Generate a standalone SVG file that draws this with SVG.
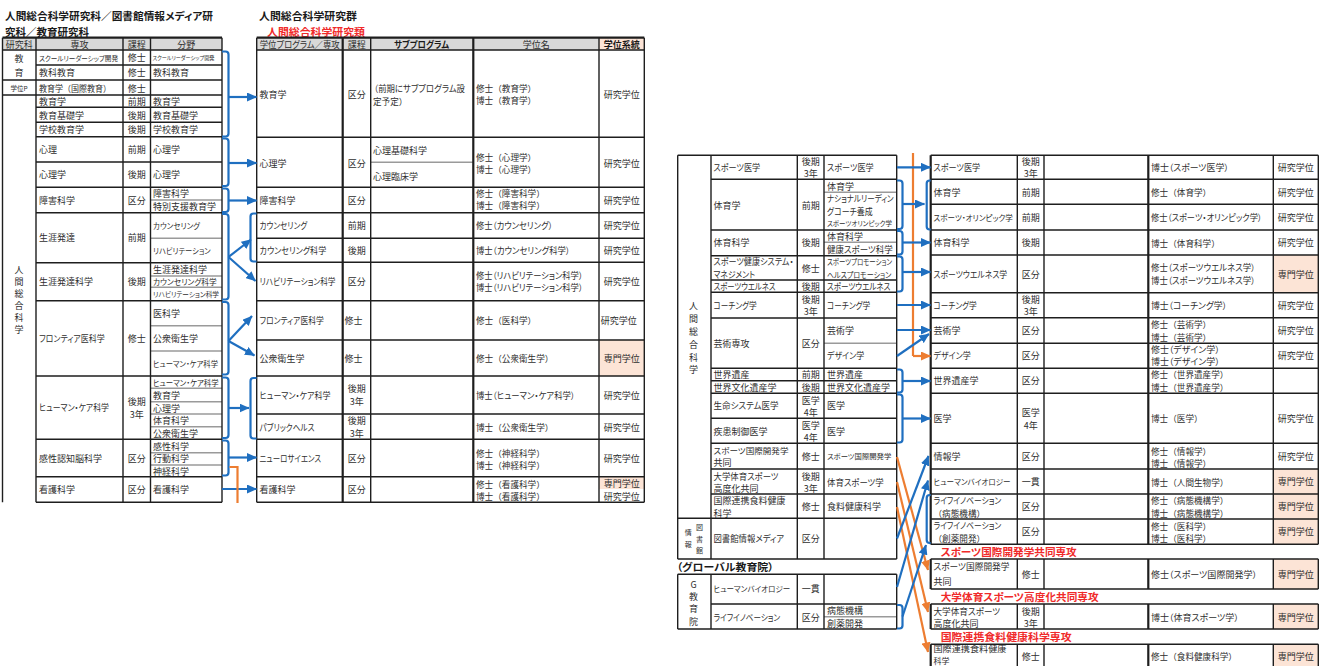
<svg xmlns="http://www.w3.org/2000/svg" width="1324" height="666" viewBox="0 0 1324 666">
<defs>
<style>
.t{font-family:"Noto Sans CJK JP","Noto Sans CJK SC",sans-serif;font-size:9px;fill:#2e2e2e;dominant-baseline:central;font-feature-settings:"palt"}
.m{text-anchor:middle}
.s8{font-size:8px}.s7{font-size:7px}.s6{font-size:5.5px}
.np{font-size:8.6px;font-feature-settings:normal}
.b{font-weight:bold;fill:#1a1a1a}
.ti{font-size:10.5px;font-weight:bold;fill:#1a1a1a}
.rd{font-size:10.5px;font-weight:bold;fill:#f02a2a}
.ln{stroke:#1e1e1e;stroke-width:1.4;fill:none}
.lt{stroke:#1e1e1e;stroke-width:2.2;fill:none}
.gl{stroke:#9a9a9a;stroke-width:1.4;fill:none}
.hd{fill:#d9d9d9}.pc{fill:#fce4d6}
.cb{stroke:#1f6fc0;stroke-width:2.2;fill:none}
.ca{stroke:#1f6fc0;stroke-width:2.2;fill:none;marker-end:url(#ab)}
.co{stroke:#ed7d31;stroke-width:2.2;fill:none}
.oa{stroke:#ed7d31;stroke-width:2.2;fill:none;marker-end:url(#ao)}
</style>
<marker id="ab" markerUnits="userSpaceOnUse" markerWidth="10" markerHeight="9" refX="9.5" refY="4.5" orient="auto"><path d="M0,0L10,4.5L0,9Z" fill="#1f6fc0"/></marker>
<marker id="ao" markerUnits="userSpaceOnUse" markerWidth="10" markerHeight="9" refX="9.5" refY="4.5" orient="auto"><path d="M0,0L10,4.5L0,9Z" fill="#ed7d31"/></marker>
</defs>
<rect width="1324" height="666" fill="#fff"/>

<g id="titles">
<text class="t ti" x="5" y="15.5" textLength="208" lengthAdjust="spacingAndGlyphs">人間総合科学研究科／図書館情報メディア研</text>
<text class="t ti" x="5" y="31">究科／教育研究科</text>
<text class="t ti" x="259" y="15" textLength="98" lengthAdjust="spacingAndGlyphs">人間総合科学研究群</text>
<text class="t rd" x="267" y="31" textLength="98" lengthAdjust="spacingAndGlyphs">人間総合科学研究類</text>
</g>

<!-- ================= TABLE A ================= -->
<g id="tableA-grid">
<rect class="hd" x="2.5" y="37.7" width="219.5" height="12.3"/>
<path class="gl" d="M150.5,200H222M150.5,238.3H222M150.5,276H222M150.5,287.3H222M150.5,325.7H222M150.5,351H222M150.5,388.3H222M150.5,401.7H222M150.5,414H222M150.5,426.7H222M150.5,452.7H222M150.5,465H222"/>
<path class="ln" d="M2.5,50H222M36,65H222M2.5,80H222M2.5,95H222M36,107.3H222M36,122.3H222M36,136.7H222M36,162H222M36,187.3H222M36,212.7H222M36,262.7H222M36,300.7H222M36,376H222M36,439.3H222M36,476.7H222M36,502.3H222M2.5,37.7V502.3M36,37.7V502.3M123,37.7V502.3M150.5,37.7V502.3M222,37.7V502.3"/>
<path class="lt" d="M2.5,37.7H222"/>
</g>
<g id="a-header">
<text class="t m" x="19.2" y="44">研究科</text><text class="t m" x="79.5" y="44">専攻</text><text class="t m" x="136.7" y="44">課程</text><text class="t m" x="186.2" y="44">分野</text>
</g>
<g id="a-kenkyuka">
<text class="t m" x="19" y="58">教</text><text class="t m" x="19" y="72">育</text>
<text class="t m" x="19" y="87.5" style="font-size:6.5px">学位P</text>
<text class="t m" x="19" y="269">人</text><text class="t m" x="19" y="281">間</text><text class="t m" x="19" y="293">総</text><text class="t m" x="19" y="305">合</text><text class="t m" x="19" y="317">科</text><text class="t m" x="19" y="329">学</text>
</g>
<g id="a-r1"><text class="t s7" x="39" y="57.5" textLength="79" lengthAdjust="spacingAndGlyphs">スクールリーダーシップ開発</text><text class="t m" x="136.7" y="57.5">修士</text><text class="t s6" x="152.5" y="57.5" textLength="62" lengthAdjust="spacingAndGlyphs">スクールリーダーシップ開発</text></g>
<g id="a-r2"><text class="t" x="39" y="72.5">教科教育</text><text class="t m" x="136.7" y="72.5">修士</text><text class="t" x="153" y="72.5">教科教育</text></g>
<g id="a-r3"><text class="t np" x="39" y="87.5" textLength="72" lengthAdjust="spacingAndGlyphs">教育学（国際教育）</text><text class="t m" x="136.7" y="88">修士</text></g>
<g id="a-r4"><text class="t" x="39" y="101">教育学</text><text class="t m" x="136.7" y="101">前期</text><text class="t" x="153" y="101">教育学</text></g>
<g id="a-r5"><text class="t" x="39" y="115">教育基礎学</text><text class="t m" x="136.7" y="115">後期</text><text class="t" x="153" y="115">教育基礎学</text></g>
<g id="a-r6"><text class="t" x="39" y="129.5">学校教育学</text><text class="t m" x="136.7" y="129.5">後期</text><text class="t" x="153" y="129.5">学校教育学</text></g>
<g id="a-r7"><text class="t" x="39" y="149.5">心理</text><text class="t m" x="136.7" y="149.5">前期</text><text class="t" x="153" y="149.5">心理学</text></g>
<g id="a-r8"><text class="t" x="39" y="174.5">心理学</text><text class="t m" x="136.7" y="174.5">後期</text><text class="t" x="153" y="174.5">心理学</text></g>
<g id="a-r9"><text class="t" x="39" y="200">障害科学</text><text class="t m" x="136.7" y="200">区分</text><text class="t" x="153" y="193.8">障害科学</text><text class="t" x="153" y="206.3">特別支援教育学</text></g>
<g id="a-r10"><text class="t" x="39" y="237.5">生涯発達</text><text class="t m" x="136.7" y="237.5">前期</text><text class="t s8" x="153" y="225.5" textLength="47" lengthAdjust="spacingAndGlyphs">カウンセリング</text><text class="t s8" x="153" y="250.5" textLength="57.7" lengthAdjust="spacingAndGlyphs">リハビリテーション</text></g>
<g id="a-r11"><text class="t" x="39" y="281.5">生涯発達科学</text><text class="t m" x="136.7" y="281.5">後期</text><text class="t" x="153" y="269.5">生涯発達科学</text><text class="t s8" x="153" y="281.8" textLength="63.7" lengthAdjust="spacingAndGlyphs">カウンセリング科学</text><text class="t s7" x="153" y="294" textLength="66" lengthAdjust="spacingAndGlyphs">リハビリテーション科学</text></g>
<g id="a-r12"><text class="t" x="39" y="338.5" textLength="65.7" lengthAdjust="spacingAndGlyphs">フロンティア医科学</text><text class="t m" x="136.7" y="338.5">修士</text><text class="t" x="153" y="313">医科学</text><text class="t" x="153" y="338.5">公衆衛生学</text><text class="t s8" x="153" y="363.5" textLength="65" lengthAdjust="spacingAndGlyphs">ヒューマン・ケア科学</text></g>
<g id="a-r13"><text class="t" x="39" y="407.5" textLength="70" lengthAdjust="spacingAndGlyphs">ヒューマン・ケア科学</text><text class="t m" x="136.7" y="401.5">後期</text><text class="t m" x="136.7" y="414">3年</text><text class="t s8" x="153" y="382" textLength="65.6" lengthAdjust="spacingAndGlyphs">ヒューマン・ケア科学</text><text class="t" x="153" y="395">教育学</text><text class="t" x="153" y="408">心理学</text><text class="t" x="153" y="420.3">体育科学</text><text class="t" x="153" y="433">公衆衛生学</text></g>
<g id="a-r14"><text class="t" x="39" y="458">感性認知脳科学</text><text class="t m" x="136.7" y="458">区分</text><text class="t" x="153" y="446">感性科学</text><text class="t" x="153" y="458.8">行動科学</text><text class="t" x="153" y="471">神経科学</text></g>
<g id="a-r15"><text class="t" x="39" y="489.5">看護科学</text><text class="t m" x="136.7" y="489.5">区分</text><text class="t" x="153" y="489.5">看護科学</text></g>

<!-- ================= TABLE B ================= -->
<g id="tableB-grid">
<rect class="hd" x="256.7" y="37.7" width="342.3" height="12.3"/>
<rect class="pc" x="599" y="37.7" width="45.3" height="12.3"/>
<rect class="pc" x="599" y="340" width="45.3" height="36"/>
<rect class="pc" x="599" y="476.7" width="45.3" height="12.3"/>
<path class="gl" d="M370.7,162.3H473.3"/>
<path class="ln" d="M256.7,50H644.3M256.7,137.3H644.3M256.7,187.3H644.3M256.7,212.7H644.3M256.7,238.3H644.3M256.7,262.3H644.3M256.7,300.7H644.3M256.7,340H644.3M256.7,376H644.3M256.7,414H644.3M256.7,439.3H644.3M256.7,476.7H644.3M256.7,502.3H644.3M256.7,37.7V502.3M370.7,37.7V502.3M599,37.7V502.3M644.3,37.7V502.3"/>
<path class="lt" d="M256.7,37.7H644.3M342.7,37.7V502.3M473.3,37.7V502.3"/>
</g>
<g id="b-header"><text class="t m" x="299.7" y="44" textLength="80" lengthAdjust="spacingAndGlyphs">学位プログラム／専攻</text><text class="t m" x="356.7" y="44">課程</text><text class="t m b" x="421.5" y="44" textLength="55" lengthAdjust="spacingAndGlyphs">サブプログラム</text><text class="t m" x="536.2" y="44">学位名</text><text class="t m b" x="621.7" y="44">学位系統</text></g>
<g id="b-kyoiku"><text class="t" x="259.5" y="94">教育学</text><text class="t m" x="356.7" y="94">区分</text><text class="t" x="374" y="88.5" textLength="91" lengthAdjust="spacingAndGlyphs">（前期にサブプログラム設</text><text class="t np" x="373" y="100.5">定予定）</text><text class="t np" x="476" y="88.3">修士（教育学）</text><text class="t np" x="476" y="99.8">博士（教育学）</text><text class="t m" x="621.7" y="94">研究学位</text></g>
<g id="b-shinri"><text class="t" x="259.5" y="163">心理学</text><text class="t m" x="356.7" y="163">区分</text><text class="t" x="373" y="150">心理基礎科学</text><text class="t" x="373" y="176">心理臨床学</text><text class="t np" x="476" y="156.5">修士（心理学）</text><text class="t np" x="476" y="168.5">博士（心理学）</text><text class="t m" x="621.7" y="163">研究学位</text></g>
<g id="b-shogai"><text class="t" x="259.5" y="200">障害科学</text><text class="t m" x="356.7" y="200">区分</text><text class="t np" x="476" y="193.3">修士（障害科学）</text><text class="t np" x="476" y="205.3">博士（障害科学）</text><text class="t m" x="621.7" y="200">研究学位</text></g>
<g id="b-counseling"><text class="t" x="259.5" y="225.5" textLength="47.7" lengthAdjust="spacingAndGlyphs">カウンセリング</text><text class="t m" x="356.7" y="225.5">前期</text><text class="t" x="476" y="225.5" textLength="76.7" lengthAdjust="spacingAndGlyphs">修士（カウンセリング）</text><text class="t m" x="621.7" y="225.5">研究学位</text></g>
<g id="b-counseling-kagaku"><text class="t" x="259.5" y="250.3" textLength="66.7" lengthAdjust="spacingAndGlyphs">カウンセリング科学</text><text class="t m" x="356.7" y="250.3">後期</text><text class="t" x="476" y="250.3" textLength="94" lengthAdjust="spacingAndGlyphs">博士（カウンセリング科学）</text><text class="t m" x="621.7" y="250.3">研究学位</text></g>
<g id="b-rehab"><text class="t" x="259.5" y="281.5" textLength="76" lengthAdjust="spacingAndGlyphs">リハビリテーション科学</text><text class="t m" x="356.7" y="281.5">区分</text><text class="t" x="476" y="275.5" textLength="107" lengthAdjust="spacingAndGlyphs">修士（リハビリテーション科学）</text><text class="t" x="476" y="287.5" textLength="107" lengthAdjust="spacingAndGlyphs">博士（リハビリテーション科学）</text><text class="t m" x="621.7" y="281.5">研究学位</text></g>
<g id="b-frontier"><text class="t" x="259.5" y="320.3" textLength="64.3" lengthAdjust="spacingAndGlyphs">フロンティア医科学</text><text class="t" x="344.5" y="320.3">修士</text><text class="t np" x="476" y="320.3">修士（医科学）</text><text class="t" x="600.7" y="320.3">研究学位</text></g>
<g id="b-koshu"><text class="t" x="259.5" y="358">公衆衛生学</text><text class="t" x="344.5" y="358">修士</text><text class="t np" x="476" y="358">修士（公衆衛生学）</text><text class="t m" x="621.7" y="358">専門学位</text></g>
<g id="b-humancare"><text class="t" x="259.5" y="395" textLength="71" lengthAdjust="spacingAndGlyphs">ヒューマン・ケア科学</text><text class="t m" x="356.7" y="388.7">後期</text><text class="t m" x="356.7" y="401.3">3年</text><text class="t" x="476" y="395" textLength="99" lengthAdjust="spacingAndGlyphs">博士（ヒューマン・ケア科学）</text><text class="t m" x="621.7" y="395">研究学位</text></g>
<g id="b-public"><text class="t" x="259.5" y="427" textLength="55" lengthAdjust="spacingAndGlyphs">パブリックヘルス</text><text class="t m" x="356.7" y="420.7">後期</text><text class="t m" x="356.7" y="433.3">3年</text><text class="t np" x="476" y="427">博士（公衆衛生学）</text><text class="t m" x="621.7" y="427">研究学位</text></g>
<g id="b-neuro"><text class="t" x="259.5" y="458" textLength="61.7" lengthAdjust="spacingAndGlyphs">ニューロサイエンス</text><text class="t m" x="356.7" y="458">区分</text><text class="t np" x="476" y="453">修士（神経科学）</text><text class="t np" x="476" y="465">博士（神経科学）</text><text class="t m" x="621.7" y="458">研究学位</text></g>
<g id="b-kango"><text class="t" x="259.5" y="489.5">看護科学</text><text class="t m" x="356.7" y="489.5">区分</text><text class="t np" x="476" y="484">修士（看護科学）</text><text class="t np" x="476" y="495.5">博士（看護科学）</text><text class="t m" x="621.7" y="483">専門学位</text><text class="t m" x="621.7" y="496">研究学位</text></g>

<!-- ================= TABLE C ================= -->
<g id="tableC-grid">
<path class="gl" d="M824,192.3H896.7M824,242.3H896.7M824,343.3H896.7M824,616.7H896.7"/>
<path class="ln" d="M677.7,155.3H896.7M711,179.3H896.7M711,230H896.7M711,255.7H896.7M711,280H896.7M711,292.3H896.7M711,318H896.7M711,368.3H896.7M711,380.7H896.7M711,393.3H896.7M711,418.3H896.7M711,443.3H896.7M711,469H896.7M711,494H896.7M677.7,518.3H896.7M677.7,559H896.7M677.7,155.3V559M711,155.3V559M797.3,155.3V559M824,155.3V559M896.7,155.3V559"/>
<path class="ln" d="M677.7,574.3H896.7M711,604H896.7M677.7,629H896.7M677.7,574.3V629M711,574.3V629M797.3,574.3V629M824,574.3V629M896.7,574.3V629"/>
</g>
<g id="c-kenkyuka">
<text class="t m" x="693.5" y="305">人</text><text class="t m" x="693.5" y="318">間</text><text class="t m" x="693.5" y="331">総</text><text class="t m" x="693.5" y="344">合</text><text class="t m" x="693.5" y="357">科</text><text class="t m" x="693.5" y="369">学</text>
<text class="t m s7" x="688.3" y="531.5">情</text><text class="t m s7" x="688.3" y="544">報</text>
<text class="t m s7" x="699.5" y="527.3">図</text><text class="t m s7" x="699.5" y="538.7">書</text><text class="t m s7" x="699.5" y="550">館</text>
</g>
<g id="c-r1"><text class="t" x="713.5" y="167.3" textLength="46.7" lengthAdjust="spacingAndGlyphs">スポーツ医学</text><text class="t m" x="810.7" y="161.7">後期</text><text class="t m" x="810.7" y="173.7">3年</text><text class="t" x="827" y="167.3" textLength="46.7" lengthAdjust="spacingAndGlyphs">スポーツ医学</text></g>
<g id="c-r2"><text class="t" x="713.5" y="205">体育学</text><text class="t m" x="810.7" y="205">前期</text><text class="t" x="827" y="186">体育学</text><text class="t" x="827" y="198.5" textLength="66.7" lengthAdjust="spacingAndGlyphs">ナショナルリーディン</text><text class="t" x="827" y="211.5" textLength="45.7" lengthAdjust="spacingAndGlyphs">グコーチ養成</text><text class="t s7" x="827" y="223.3" textLength="65" lengthAdjust="spacingAndGlyphs">スポーツオリンピック学</text></g>
<g id="c-r3"><text class="t" x="713.5" y="242.8">体育科学</text><text class="t m" x="810.7" y="242.8">後期</text><text class="t" x="827" y="236.3">体育科学</text><text class="t" x="827" y="249" textLength="65.7" lengthAdjust="spacingAndGlyphs">健康スポーツ科学</text></g>
<g id="c-r4"><text class="t" x="713.5" y="261.3" textLength="80" lengthAdjust="spacingAndGlyphs">スポーツ健康システム・</text><text class="t" x="713.5" y="274" textLength="41.7" lengthAdjust="spacingAndGlyphs">マネジメント</text><text class="t m" x="810.7" y="268">修士</text><text class="t s8" x="827" y="261.3" textLength="65" lengthAdjust="spacingAndGlyphs">スポーツプロモーション</text><text class="t s8" x="827" y="274" textLength="64.3" lengthAdjust="spacingAndGlyphs">ヘルスプロモーション</text></g>
<g id="c-r5"><text class="t" x="713.5" y="286.3" textLength="62" lengthAdjust="spacingAndGlyphs">スポーツウエルネス</text><text class="t m" x="810.7" y="286.3">後期</text><text class="t" x="827" y="286.3" textLength="63.5" lengthAdjust="spacingAndGlyphs">スポーツウエルネス</text></g>
<g id="c-r6"><text class="t" x="713.5" y="305" textLength="43.3" lengthAdjust="spacingAndGlyphs">コーチング学</text><text class="t m" x="810.7" y="299.5">後期</text><text class="t m" x="810.7" y="311.8">3年</text><text class="t" x="827" y="305" textLength="43.3" lengthAdjust="spacingAndGlyphs">コーチング学</text></g>
<g id="c-r7"><text class="t" x="713.5" y="343">芸術専攻</text><text class="t m" x="810.7" y="343">区分</text><text class="t" x="827" y="330.5">芸術学</text><text class="t" x="827" y="355.8" textLength="37.3" lengthAdjust="spacingAndGlyphs">デザイン学</text></g>
<g id="c-r8"><text class="t" x="713.5" y="374.5">世界遺産</text><text class="t m" x="810.7" y="374.5">前期</text><text class="t" x="827" y="374.5">世界遺産</text></g>
<g id="c-r9"><text class="t" x="713.5" y="387">世界文化遺産学</text><text class="t m" x="810.7" y="387">後期</text><text class="t" x="827" y="387">世界文化遺産学</text></g>
<g id="c-r10"><text class="t" x="713.5" y="405.8" textLength="65" lengthAdjust="spacingAndGlyphs">生命システム医学</text><text class="t m" x="810.7" y="400">医学</text><text class="t m" x="810.7" y="412.3">4年</text><text class="t" x="827" y="405.8">医学</text></g>
<g id="c-r11"><text class="t" x="713.5" y="431">疾患制御医学</text><text class="t m" x="810.7" y="425">医学</text><text class="t m" x="810.7" y="437.5">4年</text><text class="t" x="827" y="431">医学</text></g>
<g id="c-r12"><text class="t s8" x="713.5" y="450" textLength="75" lengthAdjust="spacingAndGlyphs">スポーツ国際開発学</text><text class="t" x="713.5" y="462.7">共同</text><text class="t m" x="810.7" y="456">修士</text><text class="t s7" x="827" y="456" textLength="64.3" lengthAdjust="spacingAndGlyphs">スポーツ国際開発学</text></g>
<g id="c-r13"><text class="t" x="713.5" y="476" textLength="65" lengthAdjust="spacingAndGlyphs">大学体育スポーツ</text><text class="t" x="713.5" y="488.3">高度化共同</text><text class="t m" x="810.7" y="476">後期</text><text class="t m" x="810.7" y="488.3">3年</text><text class="t" x="827" y="482" textLength="56.7" lengthAdjust="spacingAndGlyphs">体育スポーツ学</text></g>
<g id="c-r14"><text class="t" x="713.5" y="500">国際連携食料健康</text><text class="t" x="713.5" y="513.3">科学</text><text class="t m" x="810.7" y="506.5">修士</text><text class="t" x="827" y="506.5">食料健康科学</text></g>
<g id="c-r15"><text class="t" x="713.5" y="538.5" textLength="70.7" lengthAdjust="spacingAndGlyphs">図書館情報メディア</text><text class="t m" x="810.7" y="538.5">区分</text></g>
<g id="g-title"><text class="t ti" x="676.7" y="566.7" textLength="97" lengthAdjust="spacingAndGlyphs">（グローバル教育院）</text></g>
<g id="g-label"><text class="t m" x="693.5" y="584">G</text><text class="t m" x="693.5" y="596">教</text><text class="t m" x="693.5" y="608.5">育</text><text class="t m" x="693.5" y="621">院</text></g>
<g id="g-r1"><text class="t s8" x="713.5" y="588.5" textLength="76.7" lengthAdjust="spacingAndGlyphs">ヒューマンバイオロジー</text><text class="t m" x="810.7" y="588.5">一貫</text></g>
<g id="g-r2"><text class="t" x="713.5" y="617" textLength="66.7" lengthAdjust="spacingAndGlyphs">ライフイノベーション</text><text class="t m" x="810.7" y="617">区分</text><text class="t" x="827" y="610.5">病態機構</text><text class="t" x="827" y="623">創薬開発</text></g>

<!-- ================= TABLE D ================= -->
<g id="tableD-grid">
<rect class="pc" x="1273.3" y="255" width="45" height="37.7"/>
<rect class="pc" x="1273.3" y="469" width="45" height="75.3"/>
<rect class="pc" x="1273.3" y="559" width="45" height="30"/>
<rect class="pc" x="1273.3" y="604" width="45" height="25"/>
<rect class="pc" x="1273.3" y="644.3" width="45" height="25.7"/>
<path class="ln" d="M930.7,155.3H1318.3M930.7,179.3H1318.3M930.7,204.3H1318.3M930.7,230H1318.3M930.7,255H1318.3M930.7,292.7H1318.3M930.7,317.7H1318.3M930.7,343.3H1318.3M930.7,368.3H1318.3M930.7,393.3H1318.3M930.7,443.3H1318.3M930.7,469H1318.3M930.7,494H1318.3M930.7,519H1318.3M930.7,544.3H1318.3M1017.3,155.3V544.3M1044,155.3V544.3M1273.3,155.3V544.3M1318.3,155.3V544.3"/>
<path class="ln" d="M930.7,559H1318.3M930.7,589H1318.3M1017.3,559V589M1044,559V589M1273.3,559V589M1318.3,559V589"/>
<path class="ln" d="M930.7,604H1318.3M930.7,629H1318.3M1017.3,604V629M1044,604V629M1273.3,604V629M1318.3,604V629"/>
<path class="ln" d="M930.7,644.3H1318.3M930.7,670H1318.3M1017.3,644.3V670M1044,644.3V670M1273.3,644.3V670M1318.3,644.3V670"/>
<path class="lt" d="M930.7,155.3V544.3M1148.3,155.3V544.3M930.7,559V589M1148.3,559V589M930.7,604V629M1148.3,604V629M930.7,644.3V670M1148.3,644.3V670"/>
</g>
<g id="d-r1"><text class="t" x="933.5" y="167.3" textLength="46.7" lengthAdjust="spacingAndGlyphs">スポーツ医学</text><text class="t m" x="1030.7" y="161.7">後期</text><text class="t m" x="1030.7" y="173.7">3年</text><text class="t" x="1151" y="167.3" textLength="77.7" lengthAdjust="spacingAndGlyphs">博士（スポーツ医学）</text><text class="t m" x="1295.8" y="167.3">研究学位</text></g>
<g id="d-r2"><text class="t" x="933.5" y="192">体育学</text><text class="t m" x="1030.7" y="192">前期</text><text class="t np" x="1151" y="192">修士（体育学）</text><text class="t m" x="1295.8" y="192">研究学位</text></g>
<g id="d-r3"><text class="t s8" x="933.5" y="217" textLength="79.4" lengthAdjust="spacingAndGlyphs">スポーツ・オリンピック学</text><text class="t m" x="1030.7" y="217">前期</text><text class="t" x="1151" y="217" textLength="111" lengthAdjust="spacingAndGlyphs">修士（スポーツ・オリンピック学）</text><text class="t m" x="1295.8" y="217">研究学位</text></g>
<g id="d-r4"><text class="t" x="933.5" y="242.5">体育科学</text><text class="t m" x="1030.7" y="242.5">後期</text><text class="t np" x="1151" y="242.5">博士（体育科学）</text><text class="t m" x="1295.8" y="242.5">研究学位</text></g>
<g id="d-r5"><text class="t" x="933.5" y="274" textLength="73.7" lengthAdjust="spacingAndGlyphs">スポーツウエルネス学</text><text class="t m" x="1030.7" y="274">区分</text><text class="t" x="1151" y="267.7" textLength="104.3" lengthAdjust="spacingAndGlyphs">修士（スポーツウエルネス学）</text><text class="t" x="1151" y="280" textLength="104.3" lengthAdjust="spacingAndGlyphs">博士（スポーツウエルネス学）</text><text class="t m" x="1295.8" y="274">専門学位</text></g>
<g id="d-r6"><text class="t" x="933.5" y="305" textLength="43.3" lengthAdjust="spacingAndGlyphs">コーチング学</text><text class="t m" x="1030.7" y="299.5">後期</text><text class="t m" x="1030.7" y="311.8">3年</text><text class="t" x="1151" y="305" textLength="76" lengthAdjust="spacingAndGlyphs">博士（コーチング学）</text><text class="t m" x="1295.8" y="305">研究学位</text></g>
<g id="d-r7"><text class="t" x="933.5" y="330.5">芸術学</text><text class="t m" x="1030.7" y="330.5">区分</text><text class="t np" x="1151" y="324.3">修士（芸術学）</text><text class="t np" x="1151" y="337">博士（芸術学）</text><text class="t m" x="1295.8" y="330.5">研究学位</text></g>
<g id="d-r8"><text class="t" x="933.5" y="355.8" textLength="37.3" lengthAdjust="spacingAndGlyphs">デザイン学</text><text class="t m" x="1030.7" y="355.8">区分</text><text class="t" x="1151" y="349.3" textLength="68.7" lengthAdjust="spacingAndGlyphs">修士（デザイン学）</text><text class="t" x="1151" y="361.7" textLength="68.7" lengthAdjust="spacingAndGlyphs">博士（デザイン学）</text><text class="t m" x="1295.8" y="355.8">研究学位</text></g>
<g id="d-r9"><text class="t" x="933.5" y="380.8">世界遺産学</text><text class="t m" x="1030.7" y="380.8">区分</text><text class="t np" x="1151" y="374.3">修士（世界遺産学）</text><text class="t np" x="1151" y="386.7">博士（世界遺産学）</text></g>
<g id="d-r10"><text class="t" x="933.5" y="418.3">医学</text><text class="t m" x="1030.7" y="412.3">医学</text><text class="t m" x="1030.7" y="425">4年</text><text class="t np" x="1151" y="418.3">博士（医学）</text><text class="t m" x="1295.8" y="418.3">研究学位</text></g>
<g id="d-r11"><text class="t" x="933.5" y="456">情報学</text><text class="t m" x="1030.7" y="456">区分</text><text class="t np" x="1151" y="450.5">修士（情報学）</text><text class="t np" x="1151" y="462.7">博士（情報学）</text><text class="t m" x="1295.8" y="456">研究学位</text></g>
<g id="d-r12"><text class="t s8" x="933.5" y="481.5" textLength="77" lengthAdjust="spacingAndGlyphs">ヒューマンバイオロジー</text><text class="t m" x="1030.7" y="481.5">一貫</text><text class="t np" x="1151" y="481.5">博士（人間生物学）</text><text class="t m" x="1295.8" y="481.5">専門学位</text></g>
<g id="d-r13"><text class="t" x="933.5" y="500" textLength="67.7" lengthAdjust="spacingAndGlyphs">ライフイノベーション</text><text class="t np" x="933.5" y="512.7">（病態機構）</text><text class="t m" x="1030.7" y="506.5">区分</text><text class="t np" x="1151" y="500">修士（病態機構学）</text><text class="t np" x="1151" y="512.7">博士（病態機構学）</text><text class="t m" x="1295.8" y="506.5">専門学位</text></g>
<g id="d-r14"><text class="t" x="933.5" y="525.7" textLength="67.7" lengthAdjust="spacingAndGlyphs">ライフイノベーション</text><text class="t np" x="933.5" y="537.7">（創薬開発）</text><text class="t m" x="1030.7" y="531.7">区分</text><text class="t np" x="1151" y="525.7">修士（医科学）</text><text class="t np" x="1151" y="537.7">博士（医科学）</text><text class="t m" x="1295.8" y="531.7">専門学位</text></g>
<g id="d-sec1"><text class="t rd" x="940.7" y="551.7" textLength="136" lengthAdjust="spacingAndGlyphs">スポーツ国際開発学共同専攻</text></g>
<g id="d-r15"><text class="t" x="933.5" y="566.7" textLength="76" lengthAdjust="spacingAndGlyphs">スポーツ国際開発学</text><text class="t" x="933.5" y="581">共同</text><text class="t m" x="1030.7" y="574">修士</text><text class="t" x="1151" y="574" textLength="106" lengthAdjust="spacingAndGlyphs">修士（スポーツ国際開発学）</text><text class="t m" x="1295.8" y="574">専門学位</text></g>
<g id="d-sec2"><text class="t rd" x="940.7" y="596.7" textLength="158" lengthAdjust="spacingAndGlyphs">大学体育スポーツ高度化共同専攻</text></g>
<g id="d-r16"><text class="t" x="933.5" y="611" textLength="66.7" lengthAdjust="spacingAndGlyphs">大学体育スポーツ</text><text class="t" x="933.5" y="623.3">高度化共同</text><text class="t m" x="1030.7" y="611">後期</text><text class="t m" x="1030.7" y="623.3">3年</text><text class="t" x="1151" y="617" textLength="87.7" lengthAdjust="spacingAndGlyphs">博士（体育スポーツ学）</text><text class="t m" x="1295.8" y="617">専門学位</text></g>
<g id="d-sec3"><text class="t rd" x="940.7" y="636.7" textLength="131" lengthAdjust="spacingAndGlyphs">国際連携食料健康科学専攻</text></g>
<g id="d-r17"><text class="t s8" x="933.5" y="648.3" textLength="73" lengthAdjust="spacingAndGlyphs">国際連携食料健康</text><text class="t s8" x="933.5" y="660.3">科学</text><text class="t m" x="1030.7" y="656">修士</text><text class="t np" x="1151" y="656">修士（食料健康科学）</text><text class="t m" x="1295.8" y="656">専門学位</text></g>

<!-- ================= CONNECTORS ================= -->
<g id="connectors">
<path class="cb" d="M222,51.5h3.5q3,0 3,3V133.5q0,3 -3,3h-3.5"/>
<path class="ca" d="M228.5,97H256.5"/>
<path class="cb" d="M222,138.5h3.5q3,0 3,3V183q0,3 -3,3h-3.5"/>
<path class="ca" d="M228.5,163H256.5"/>
<path class="cb" d="M222,188.5h3.5q3,0 3,3V209q0,3 -3,3h-3.5"/>
<path class="ca" d="M228.5,200.5H256.5"/>
<path class="cb" d="M222,214h3.5q3,0 3,3V296.5q0,3 -3,3h-3.5"/>
<path class="ca" d="M228.5,257L251,239.5"/>
<path class="ca" d="M228.5,257L255.5,281"/>
<path class="cb" d="M256.5,213.5h-3q-3,0 -3,3V258.5q0,3 3,3h3"/>
<path class="cb" d="M222,302h3.5q3,0 3,3V371.5q0,3 -3,3h-3.5"/>
<path class="ca" d="M228.5,341L252,316"/>
<path class="ca" d="M228.5,341L254.5,355.5"/>
<path class="cb" d="M222,377.5h3.5q3,0 3,3V435q0,3 -3,3h-3.5"/>
<path class="ca" d="M228.5,408H249"/>
<path class="cb" d="M256.5,378h-3q-3,0 -3,3V435.5q0,3 3,3h3"/>
<path class="cb" d="M222,440.5h3.5q3,0 3,3V472.5q0,3 -3,3h-3.5"/>
<path class="ca" d="M228.5,457.5H256.5"/>
<path class="ca" d="M222,489H256.5"/>
<path class="co" d="M229.5,467H237.5V503"/>
<path class="co" d="M913,153V356"/>
<path class="oa" d="M913,356H930.5"/>
<path class="ca" d="M897,167.3H930.5"/>
<path class="cb" d="M897,180.5h2.5q3,0 3,3V226q0,3 -3,3h-2.5"/>
<path class="ca" d="M902.5,204H924.5"/>
<path class="cb" d="M930.7,180.5h-1q-3,0 -3,3V226.5q0,3 3,3h1"/>
<path class="cb" d="M897,231h2.5q3,0 3,3V251.5q0,3 -3,3h-2.5"/>
<path class="ca" d="M902.5,242.5H930.5"/>
<path class="cb" d="M897,256.5h2.5q3,0 3,3V288.5q0,3 -3,3h-2.5"/>
<path class="ca" d="M902.5,272H930.5"/>
<path class="ca" d="M897,305H930.5"/>
<path class="ca" d="M897,330H930.5"/>
<path class="ca" d="M897,356L929,334"/>
<path class="cb" d="M897,369.5h2.5q3,0 3,3V389.5q0,3 -3,3h-2.5"/>
<path class="ca" d="M902.5,381H930.5"/>
<path class="cb" d="M897,394.5h2.5q3,0 3,3V439.5q0,3 -3,3h-2.5"/>
<path class="ca" d="M902.5,418.5H930.5"/>
<path class="oa" d="M897,457L928,570"/>
<path class="oa" d="M897,482L928,612"/>
<path class="oa" d="M897,507L928,652"/>
<path class="ca" d="M897,538.5L928.5,456"/>
<path class="ca" d="M897,587L928,480.5"/>
<path class="cb" d="M897,605h2.5q3,0 3,3V625.5q0,3 -3,3h-2.5"/>
<path class="ca" d="M902.5,616.5L926,545"/>
<path class="cb" d="M930.7,495h-1q-3,0 -3,3V540q0,3 3,3h1"/>
</g>
</svg>
